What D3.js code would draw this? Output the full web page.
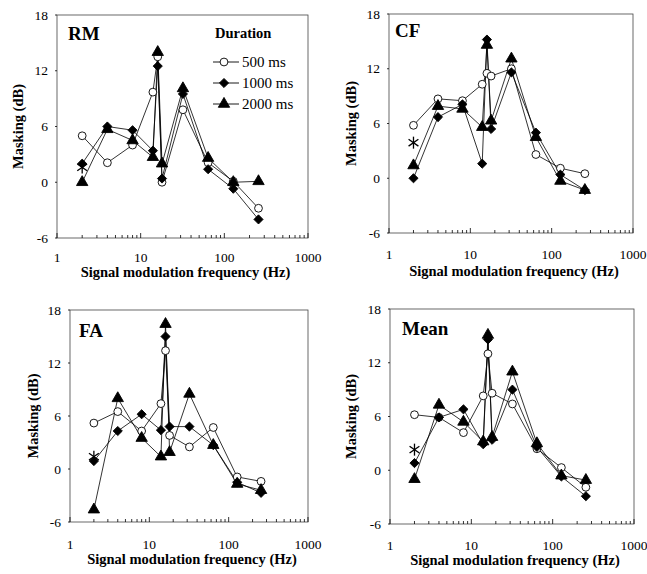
<!DOCTYPE html>
<html><head><meta charset="utf-8">
<script src="https://cdn.jsdelivr.net/npm/d3@7/dist/d3.min.js"></script>
<style>body{margin:0;background:#fff}svg{display:block}</style>
</head><body>
<svg id="c" width="647" height="574"></svg>
<script>
// ---- data ----
const freqs = [2, 4, 8, 14, 16, 18, 32, 64, 128, 256];
const panelNames = ["RM", "CF", "FA", "Mean"];
const seriesNames = ["500 ms", "1000 ms", "2000 ms"];
const rm500  = [5.0, 2.1, 4.0, 9.7, 13.5, 0.0, 7.8, 2.1, 0.1, -2.8];
const rm1000 = [2.0, 6.0, 5.6, 3.4, 12.5, 0.4, 9.5, 1.4, -0.7, -4.0];
const rm2000 = [0.0, 5.7, 4.5, 2.7, 14.0, 2.0, 10.1, 2.6, 0.0, 0.1];
const cf500  = [5.8, 8.7, 8.5, 10.3, 11.5, 11.2, 12.0, 2.6, 1.1, 0.5];
const cf1000 = [0.0, 6.7, 8.1, 1.6, 15.2, 5.4, 11.6, 5.0, 0.4, -1.3];
const cf2000 = [1.4, 7.9, 7.6, 5.6, 14.6, 6.3, 13.1, 4.5, -0.3, -1.3];
const fa500  = [5.2, 6.5, 4.3, 7.4, 13.4, 3.8, 2.5, 4.7, -0.9, -1.4];
const fa1000 = [0.9, 4.3, 6.2, 4.4, 15.0, 4.8, 4.8, 2.7, -1.5, -2.7];
const fa2000 = [-4.6, 8.0, 3.5, 1.4, 16.4, 1.9, 8.5, 2.7, -1.7, -2.4];
const mean500  = [6.2, 5.9, 4.2, 8.3, 13.0, 8.6, 7.4, 2.4, 0.3, -1.9];
const mean1000 = [0.8, 5.9, 6.8, 2.9, 14.6, 3.4, 9.0, 2.6, -0.7, -2.9];
const mean2000 = [-1.0, 7.3, 5.4, 3.2, 15.1, 3.7, 11.0, 3.0, -0.6, -1.1];
const asteriskValues = [1.6, 3.9, 1.4, 2.3];
const asteriskFreq = 2;
const yTicks = [-6, 0, 6, 12, 18];
const xTicks = [1, 10, 100, 1000];
const yLabel = "Masking (dB)";
const xLabel = "Signal modulation frequency (Hz)";
const legendTitle = "Duration";

const panelData = [
  [rm500, rm1000, rm2000],
  [cf500, cf1000, cf2000],
  [fa500, fa1000, fa2000],
  [mean500, mean1000, mean2000]
];

// ---- layout ----
const layout = [
  {l: 57,  r: 308, t: 15,  b: 238, lx: 68,  ly: 40, yt: 18,  xl: 262, xt: 277},
  {l: 389, r: 633, t: 14,  b: 233, lx: 395, ly: 37, yt: 351, xl: 259, xt: 276},
  {l: 70,  r: 308, t: 310, b: 522, lx: 79,  ly: 337, yt: 33, xl: 549, xt: 564},
  {l: 390, r: 634, t: 309, b: 524, lx: 402, ly: 335, yt: 351, xl: 550, xt: 565}
];
const FONT = '"Liberation Serif"';
const svg = d3.select("#c");

const diamond = {
  draw(ctx, size) {
    const r = Math.sqrt(size / 2);
    ctx.moveTo(0, -r); ctx.lineTo(r, 0); ctx.lineTo(0, r); ctx.lineTo(-r, 0); ctx.closePath();
  }
};
const symbols = [d3.symbolCircle, diamond, d3.symbolTriangle];
const symSizes = [48, 42, 56];
const fills = ["#fff", "#000", "#000"];

function txt(sel) { return sel.style("font-family", FONT).attr("fill", "#000"); }

panelNames.forEach((name, pi) => {
  const L = layout[pi];
  const x = d3.scaleLog().domain([1, 1000]).range([L.l, L.r]);
  const y = d3.scaleLinear().domain([-6, 18]).range([L.b, L.t]);
  const g = svg.append("g");

  // frame
  g.append("rect").attr("x", L.l).attr("y", L.t)
    .attr("width", L.r - L.l).attr("height", L.b - L.t)
    .attr("fill", "none").attr("stroke", "#444").attr("stroke-width", 0.8);

  // x axis (ticks inward)
  const minor = [];
  for (let d = 1; d < 1000; d *= 10) for (let k = 2; k <= 9; k++) minor.push(d * k);
  g.selectAll(".mn").data(minor).join("line")
    .attr("x1", d => x(d)).attr("x2", d => x(d))
    .attr("y1", L.b).attr("y2", L.b - 3)
    .attr("stroke", "#000").attr("stroke-width", 0.8);
  g.selectAll(".mj").data(xTicks).join("line")
    .attr("x1", d => x(d)).attr("x2", d => x(d))
    .attr("y1", L.b).attr("y2", L.b - 5)
    .attr("stroke", "#000").attr("stroke-width", 0.8);
  g.selectAll(".xl").data(xTicks).join("text")
    .attr("x", d => x(d)).attr("y", L.xl)
    .attr("text-anchor", "middle")
    .style("font-size", "13.5px").call(txt).text(d => d);

  // y axis
  g.selectAll(".yt").data(yTicks).join("line")
    .attr("x1", L.l - 2).attr("x2", L.l)
    .attr("y1", d => y(d)).attr("y2", d => y(d))
    .attr("stroke", "#000").attr("stroke-width", 0.8);
  g.selectAll(".yl").data(yTicks).join("text")
    .attr("x", L.l - 9).attr("y", d => y(d) + 4.5)
    .attr("text-anchor", "end")
    .style("font-size", "13.5px").call(txt).text(d => d);

  // axis titles
  g.append("text")
    .attr("transform", `translate(${L.yt},${(L.t + L.b) / 2}) rotate(-90)`)
    .attr("text-anchor", "middle").attr("dy", "0.35em")
    .style("font-weight", "bold").style("font-size", "14.5px").call(txt).text(yLabel);
  g.append("text")
    .attr("x", (L.l + L.r) / 2 + 3).attr("y", L.xt)
    .attr("text-anchor", "middle")
    .style("font-weight", "bold").style("font-size", "14.5px").call(txt).text(xLabel);

  // panel label
  g.append("text").attr("x", L.lx).attr("y", L.ly)
    .style("font-weight", "bold").style("font-size", "19px").call(txt).text(name);

  // series
  const line = d3.line().x((d, i) => x(freqs[i])).y(d => y(d));
  panelData[pi].forEach((vals, si) => {
    g.append("path").datum(vals).attr("d", line)
      .attr("fill", "none").attr("stroke", "#000").attr("stroke-width", 0.8);
  });
  panelData[pi].forEach((vals, si) => {
    g.selectAll(null).data(vals).join("path")
      .attr("transform", (d, i) => `translate(${x(freqs[i])},${y(d)})`)
      .attr("d", d3.symbol(symbols[si], symSizes[si]))
      .attr("fill", fills[si]).attr("stroke", "#000").attr("stroke-width", 0.9);
  });

  // asterisk
  const ax = x(asteriskFreq), ay = y(asteriskValues[pi]), s = 6;
  const ast = g.append("g").attr("transform", `translate(${ax},${ay})`);
  [90, 35, -35].forEach(a => {
    const r = a * Math.PI / 180;
    ast.append("line")
      .attr("x1", -s * Math.cos(r)).attr("y1", -s * Math.sin(r))
      .attr("x2", s * Math.cos(r)).attr("y2", s * Math.sin(r))
      .attr("stroke", "#000").attr("stroke-width", 1.3);
  });

  // legend in first panel
  if (pi === 0) {
    const lg = g.append("g");
    lg.append("text").attr("x", 215).attr("y", 38)
      .style("font-weight", "bold").style("font-size", "14.5px").call(txt).text(legendTitle);
    seriesNames.forEach((sn, si) => {
      const yy = 62 + si * 21;
      lg.append("line").attr("x1", 213).attr("x2", 239)
        .attr("y1", yy).attr("y2", yy).attr("stroke", "#000").attr("stroke-width", 0.9);
      lg.append("path").attr("transform", `translate(224,${yy})`)
        .attr("d", d3.symbol(symbols[si], symSizes[si]))
        .attr("fill", fills[si]).attr("stroke", "#000").attr("stroke-width", 0.9);
      lg.append("text").attr("x", 242).attr("y", yy + 5)
        .style("font-size", "15px").call(txt).text(sn);
    });
  }
});
</script>
</body></html>
